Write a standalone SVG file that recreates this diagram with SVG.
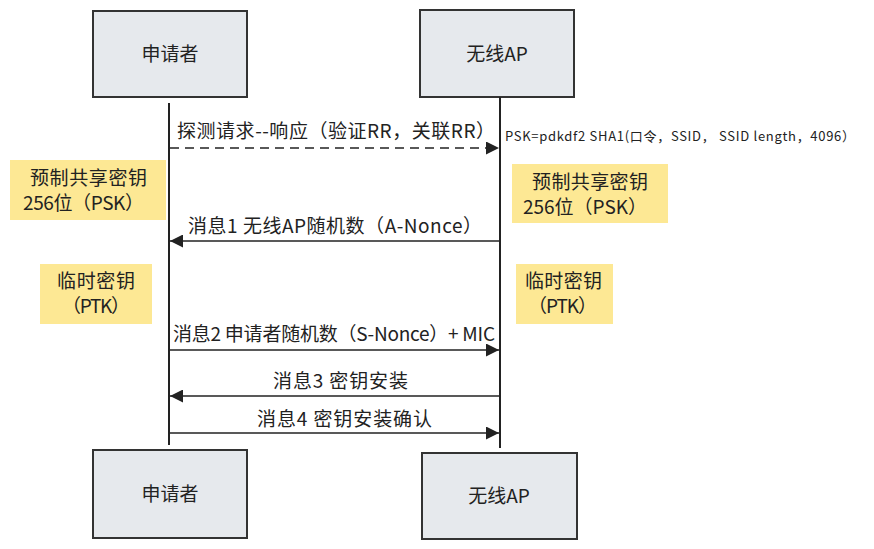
<svg xmlns="http://www.w3.org/2000/svg" width="874" height="549" viewBox="0 0 874 549">
<defs>
<style>
text{font-family:"Noto Sans CJK SC","Noto Sans",sans-serif;fill:#222}
.box{fill:#e6e9ed;stroke:#333;stroke-width:2}
.note{fill:#fde894}
.lbl{font-size:19px}
.nm{font-size:19px;text-anchor:middle}
.life{stroke:#222;stroke-width:2;fill:none}
.msg{stroke:#222;stroke-width:1.6;fill:none}
</style>
<marker id="ah" viewBox="0 0 10 10" refX="10" refY="5" markerWidth="15" markerHeight="13" markerUnits="userSpaceOnUse" orient="auto">
<path d="M0,0L10,5L0,10Z" fill="#222"/>
</marker>
</defs>
<g id="sup-top"><rect class="box" x="93" y="11" width="154" height="86"/><text class="nm" x="170" y="61">申请者</text></g>
<g id="ap-top"><rect class="box" x="420" y="10" width="154" height="87"/><text class="nm" x="497" y="61">无线AP</text></g>
<g id="sup-bot"><rect class="box" x="93" y="450" width="154" height="88"/><text class="nm" x="170" y="501">申请者</text></g>
<g id="ap-bot"><rect class="box" x="422" y="453" width="155" height="86"/><text class="nm" x="499" y="503">无线AP</text></g>
<g id="psk-left"><rect class="note" x="10" y="160" width="156" height="60"/><text class="lbl" x="30" y="185" textLength="117">预制共享密钥</text><text class="lbl" x="23" y="210" textLength="121">256位（PSK）</text></g>
<g id="psk-right"><rect class="note" x="512" y="164" width="156" height="59"/><text class="lbl" x="532" y="189" textLength="116">预制共享密钥</text><text class="lbl" x="523" y="214" textLength="124">256位（PSK）</text></g>
<g id="ptk-left"><rect class="note" x="40" y="264" width="112" height="60"/><text class="lbl" x="57" y="288" textLength="78">临时密钥</text><text class="lbl" x="62" y="313" textLength="68">（PTK）</text></g>
<g id="ptk-right"><rect class="note" x="516" y="264" width="97" height="60"/><text class="lbl" x="525" y="288" textLength="77">临时密钥</text><text class="lbl" x="528" y="313" textLength="69">（PTK）</text></g>
<g id="connectors">
<line class="life" x1="169" y1="103" x2="169" y2="445"/>
<line class="life" x1="500" y1="97" x2="500" y2="448"/>
<line class="msg" x1="170" y1="148" x2="499" y2="148" stroke-dasharray="9,6" marker-end="url(#ah)"/>
<line class="msg" x1="499" y1="241" x2="170" y2="241" marker-end="url(#ah)"/>
<line class="msg" x1="170" y1="350" x2="499" y2="350" marker-end="url(#ah)"/>
<line class="msg" x1="499" y1="396" x2="170" y2="396" marker-end="url(#ah)"/>
<line class="msg" x1="170" y1="433" x2="499" y2="433" marker-end="url(#ah)"/>
</g>
<g id="labels">
<text class="lbl" x="177" y="138" textLength="318">探测请求--响应（验证RR，关联RR）</text>
<text x="505" y="141" font-size="13" textLength="350">PSK=pdkdf2 SHA1(口令，SSID， SSID length，4096）</text>
<text class="lbl" x="188" y="233" textLength="294">消息1 无线AP随机数（A-Nonce）</text>
<text class="lbl" x="173" y="341" textLength="322">消息2 申请者随机数（S-Nonce）+ MIC</text>
<text class="lbl" x="273" y="388" textLength="135">消息3 密钥安装</text>
<text class="lbl" x="257" y="426" textLength="175">消息4 密钥安装确认</text>
</g>
</svg>
